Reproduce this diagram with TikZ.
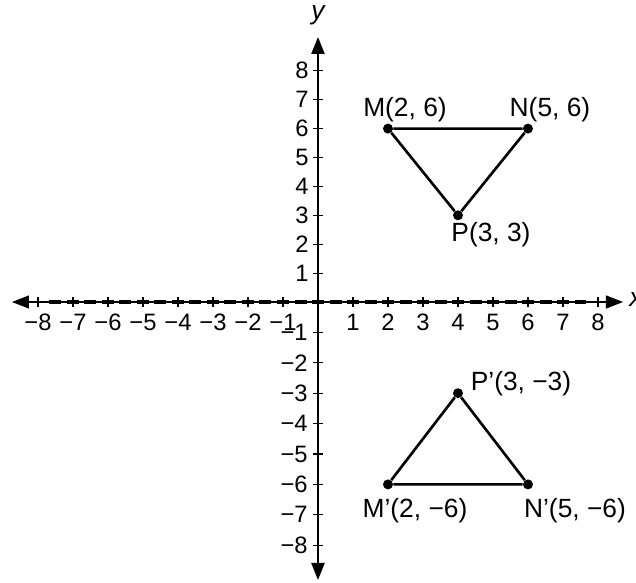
\documentclass[tikz,border=0pt]{standalone}
\usepackage{fontspec}
\setmainfont{Liberation Sans}
\usetikzlibrary{arrows.meta}
\begin{document}
\begin{tikzpicture}[
  axisnum/.style={font=\fontsize{13.5}{15}\selectfont, inner sep=0pt},
  ptlabel/.style={font=\fontsize{15}{18}\selectfont, inner sep=0pt},
  dot/.style={circle, fill=black, inner sep=0pt, minimum size=0.2cm},
  xaxis/.style={line width=0.6pt, {Triangle[length=0.34cm,width=0.26cm]}-{Triangle[length=0.34cm,width=0.26cm]}},
  yaxis/.style={line width=1.3pt, {Triangle[length=0.34cm,width=0.26cm]}-{Triangle[length=0.34cm,width=0.26cm]}},
  thickdash/.style={line width=0.09cm, dash pattern=on 0.24cm off 0.11cm},
  tick/.style={line width=0.6pt},
  tri/.style={line width=1.5pt, line join=round},
]
\useasboundingbox (-6.36,-5.62) rectangle (6.36,6.04);

% axes
\coordinate (xl) at (-6.12,0);
\coordinate (xr) at (6.10,0);
\coordinate (yt) at (0,5.30);
\coordinate (yb) at (0,-5.56);
\coordinate (dl) at (-5.37,0);
\coordinate (dr) at (5.37,0);
\draw[xaxis] (xl) -- (xr);
\draw[thickdash] (dl) -- (dr);
\draw[yaxis] (yb) -- (yt);
\node[font=\fontsize{15}{18}\selectfont\itshape, inner sep=0pt] (ylab) at (0,5.74) {y};
\node[font=\fontsize{15}{18}\selectfont\itshape, inner sep=0pt, anchor=west] (xlab) at (6.22,0.05) {x};

% x ticks and numbers
\foreach \i in {1,...,8} {
  \draw[tick] (\i*0.7,-0.1) -- (\i*0.7,0.1);
  \node[axisnum, anchor=north] (xp\i) at (\i*0.7,-0.24) {\i};
  \draw[tick] (-\i*0.7,-0.1) -- (-\i*0.7,0.1);
  \node[axisnum, anchor=north] (xn\i) at (-\i*0.7,-0.24) {−\i};
}
% y ticks and numbers
\foreach \i in {1,...,8} {
  \draw[tick] (-0.1,\i*0.578) -- (0.1,\i*0.578);
  \node[axisnum, anchor=east] (yp\i) at (-0.18,\i*0.578) {\i};
  \draw[tick] (-0.1,-\i*0.608) -- (0.1,-\i*0.608);
  \node[axisnum, anchor=east] (yn\i) at (-0.2,-\i*0.608) {−\i};
}

% upper triangle
\node[dot] (M) at (1.4,3.468) {};
\node[dot] (N) at (4.2,3.468) {};
\node[dot] (P) at (2.8,1.734) {};
\draw[tri] (M) -- (N) -- (P) -- (M);
\node[ptlabel] (Ml) at (1.74,3.84) {M(2, 6)};
\node[ptlabel] (Nl) at (4.64,3.84) {N(5, 6)};
\node[ptlabel] (Pl) at (3.46,1.34) {P(3, 3)};

% lower triangle
\node[dot] (M2) at (1.4,-3.648) {};
\node[dot] (N2) at (4.2,-3.648) {};
\node[dot] (P2) at (2.8,-1.824) {};
\draw[tri] (M2) -- (N2) -- (P2) -- (M2);
\node[ptlabel] (M2l) at (1.94,-4.18) {M’(2, −6)};
\node[ptlabel] (N2l) at (5.14,-4.18) {N’(5, −6)};
\node[ptlabel] (P2l) at (4.06,-1.64) {P’(3, −3)};
\end{tikzpicture}
\end{document}
